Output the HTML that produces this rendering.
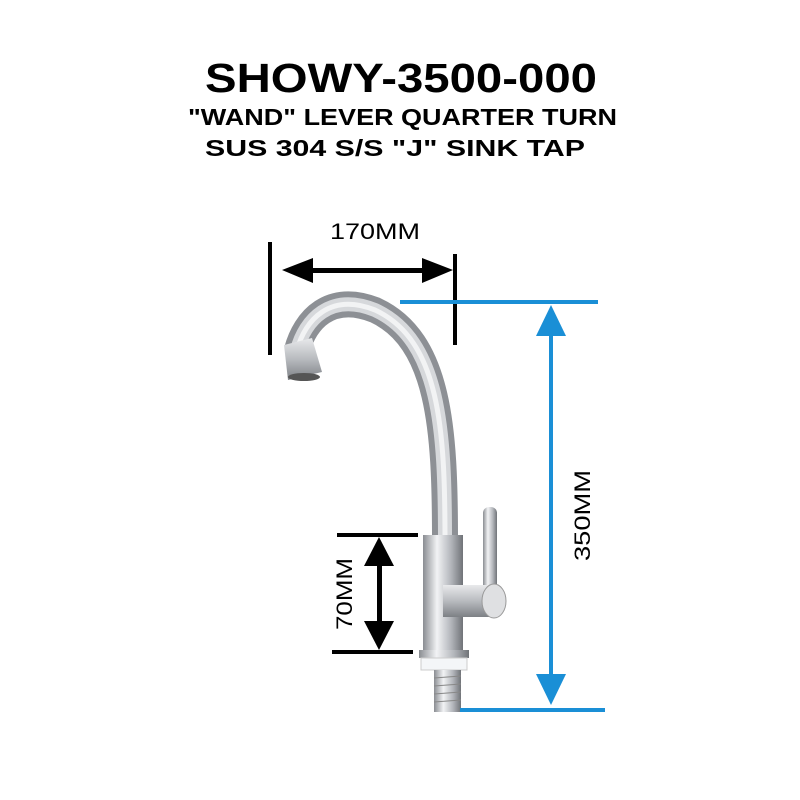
<!DOCTYPE html>
<html><head><style>body{margin:0;background:#fff}svg{display:block}</style></head><body>
<svg width="800" height="800" viewBox="0 0 800 800" xmlns="http://www.w3.org/2000/svg" font-family="Liberation Sans, sans-serif">
<defs>
<linearGradient id="m" x1="0" x2="1"><stop offset="0" stop-color="#8a8d92"/><stop offset=".35" stop-color="#f2f3f5"/><stop offset=".7" stop-color="#b3b6bb"/><stop offset="1" stop-color="#707378"/></linearGradient>
<linearGradient id="mv" x1="0" y1="0" x2="0" y2="1"><stop offset="0" stop-color="#e8e9eb"/><stop offset=".5" stop-color="#b8bbbf"/><stop offset="1" stop-color="#7d8085"/></linearGradient>
</defs>
<text x="205" y="92" font-size="41" font-weight="bold" textLength="392" lengthAdjust="spacingAndGlyphs">SHOWY-3500-000</text>
<text x="188" y="125" font-size="23" font-weight="bold" textLength="429" lengthAdjust="spacingAndGlyphs">"WAND" LEVER QUARTER TURN</text>
<text x="205" y="156" font-size="23" font-weight="bold" textLength="380" lengthAdjust="spacingAndGlyphs">SUS 304 S/S "J"  SINK TAP</text>
<text x="330" y="239" font-size="22" textLength="90" lengthAdjust="spacingAndGlyphs">170MM</text>
<!-- faucet -->
<path d="M445 540 C445 430 440 340 375 310 C330 292 305 320 297 350" fill="none" stroke="#8d9095" stroke-width="26"/>
<path d="M445 540 C445 430 440 340 375 310 C330 292 305 320 297 350" fill="none" stroke="#d6d8db" stroke-width="14"/>
<path d="M445 540 C445 430 440 340 375 310 C330 292 305 320 297 350" fill="none" stroke="#f2f3f4" stroke-width="5"/>
<path d="M284 345 L312 338 L322 372 L288 380 Z" fill="url(#mv)"/>
<ellipse cx="304" cy="377" rx="16" ry="4" fill="#555"/>
<rect x="423" y="535" width="40" height="118" fill="url(#m)"/>
<rect x="483" y="507" width="14" height="85" rx="6" fill="url(#m)"/>
<rect x="443" y="585" width="52" height="32" fill="url(#mv)"/>
<ellipse cx="494" cy="601" rx="12" ry="17" fill="#dfe0e2" stroke="#999"/>
<rect x="419" y="650" width="50" height="8" fill="url(#m)"/>
<rect x="421" y="658" width="46" height="12" fill="#f4f6f8" stroke="#ccc"/>
<rect x="434" y="670" width="27" height="42" fill="url(#m)"/>
<g stroke="#888" stroke-width="1"><line x1="434" y1="678" x2="461" y2="676"/><line x1="434" y1="686" x2="461" y2="684"/><line x1="434" y1="694" x2="461" y2="692"/><line x1="434" y1="702" x2="461" y2="700"/></g>
<!-- black dims -->
<rect x="268" y="242" width="4" height="113" fill="#000"/>
<rect x="453" y="254" width="4" height="91" fill="#000"/>
<rect x="300" y="268" width="130" height="5" fill="#000"/>
<polygon points="282,270 313,258 313,283" fill="#000"/>
<polygon points="453,270 422,258 422,283" fill="#000"/>
<rect x="337" y="533" width="81" height="4" fill="#000"/>
<rect x="332" y="650" width="81" height="4" fill="#000"/>
<rect x="377" y="560" width="5" height="70" fill="#000"/>
<polygon points="379,537 364,566 394,566" fill="#000"/>
<polygon points="379,650 364,621 394,621" fill="#000"/>
<text transform="translate(352 630) rotate(-90)" font-size="22" textLength="72" lengthAdjust="spacingAndGlyphs">70MM</text>
<!-- blue dims -->
<rect x="400" y="300" width="198" height="4" fill="#1a8fd6"/>
<rect x="460" y="708" width="145" height="4" fill="#1a8fd6"/>
<rect x="549" y="330" width="4" height="350" fill="#1a8fd6"/>
<polygon points="551,305 536,336 566,336" fill="#1a8fd6"/>
<polygon points="551,705 536,674 566,674" fill="#1a8fd6"/>
<text transform="translate(590 561) rotate(-90)" font-size="22" textLength="91" lengthAdjust="spacingAndGlyphs">350MM</text>
</svg>
</body></html>
